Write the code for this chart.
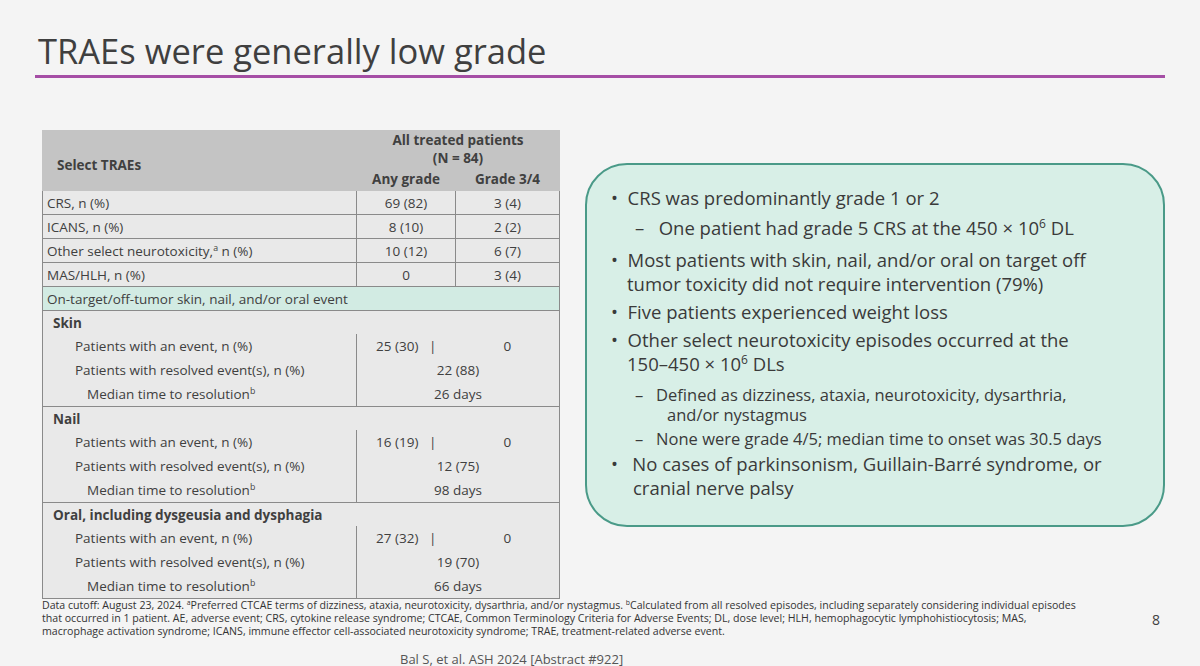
<!DOCTYPE html>
<html><head><meta charset="utf-8">
<script src="https://cdn.jsdelivr.net/npm/chart.js@4"></script>
<style>
body{margin:0;width:1200px;height:666px;background:#f4f4f4;font-family:"Open Sans","Noto Sans",sans-serif;color:#404040;position:relative;overflow:hidden}
sup{line-height:0;font-size:0.65em;vertical-align:0.55em}
#title{position:absolute;left:38px;top:27px;font-size:34.5px;color:#3f3f3f}
#rule{position:absolute;left:35px;top:75px;width:1130px;height:3px;background:#a54ea5}
#tbl{position:absolute;left:42px;top:130px;width:518px;border-collapse:collapse;font-size:13.5px}
#tbl td{border:1px solid #8a8a8a;padding:0 4px;height:23px;line-height:16px;background:#e9e9e9;white-space:nowrap}
#tbl td.c{text-align:center}
#tbl tr.h td{background:#c4c4c4;font-weight:bold;border-color:#c4c4c4}
#tbl tr.g td{background:#d2ebe3;font-weight:500}
#tbl tr.s td{font-weight:bold;border-bottom:none;border-top:1px solid #8a8a8a}
#tbl tr.n td{border-top:none;border-bottom:none}
#box{position:absolute;left:585px;top:163px;width:576px;height:360px;border:2px solid #4a9a88;border-radius:42px;background:#d8efe7;font-size:18.5px;color:#3a3a3a}
#box div{position:absolute;white-space:nowrap}
#foot{position:absolute;left:42px;top:599px;width:1040px;font-size:10.6px;line-height:13px;color:#333}
#pg{position:absolute;left:1152px;top:610px;font-size:14px}
#cite{position:absolute;left:400px;top:650px;font-size:13px;color:#555}
</style></head><body>
<div id="title">TRAEs were generally low grade</div>
<div id="rule"></div>
<table id="tbl"></table>
<div id="box"></div>
<div id="foot">Data cutoff: August 23, 2024. <sup>a</sup>Preferred CTCAE terms of dizziness, ataxia, neurotoxicity, dysarthria, and/or nystagmus. <sup>b</sup>Calculated from all resolved episodes, including separately considering individual episodes that occurred in 1 patient. AE, adverse event; CRS, cytokine release syndrome; CTCAE, Common Terminology Criteria for Adverse Events; DL, dose level; HLH, hemophagocytic lymphohistiocytosis; MAS, macrophage activation syndrome; ICANS, immune effector cell-associated neurotoxicity syndrome; TRAE, treatment-related adverse event.</div>
<div id="pg">8</div>
<div id="cite">Bal S, et al. ASH 2024 [Abstract #922]</div>
<script>
var topRows = ['CRS, n (%)', 'ICANS, n (%)', 'Other select neurotoxicity,<sup>a</sup> n (%)', 'MAS/HLH, n (%)'];
var anyGrade = ['69 (82)', '8 (10)', '10 (12)', '0'];
var grade34 = ['3 (4)', '2 (2)', '6 (7)', '3 (4)'];
var sections = ['Skin', 'Nail', 'Oral, including dysgeusia and dysphagia'];
var eventAny = ['25 (30)', '16 (19)', '27 (32)'];
var eventG34 = ['0', '0', '0'];
var resolved = ['22 (88)', '12 (75)', '19 (70)'];
var medianTime = ['26 days', '98 days', '66 days'];

var h = '<tr class="h"><td rowspan="3" style="padding-left:14px;vertical-align:middle;padding-top:8px">Select TRAEs</td><td colspan="2" class="c" style="height:17px">All treated patients</td></tr>'
  + '<tr class="h"><td colspan="2" class="c" style="height:17px">(N = 84)</td></tr>'
  + '<tr class="h"><td class="c" style="height:17px;width:90px">Any grade</td><td class="c" style="width:95px">Grade 3/4</td></tr>';
topRows.forEach(function(r, i){
  h += '<tr><td>' + r + '</td><td class="c">' + anyGrade[i] + '</td><td class="c">' + grade34[i] + '</td></tr>';
});
h += '<tr class="g"><td colspan="3">On-target/off-tumor skin, nail, and/or oral event</td></tr>';
sections.forEach(function(s, i){
  h += '<tr class="s"><td colspan="3" style="padding-left:10px">' + s + '</td></tr>';
  h += '<tr class="n"><td style="padding-left:32px;height:24px">Patients with an event, n (%)</td><td class="c" style="border-right:none">' + eventAny[i] + ' &nbsp;&nbsp;|</td><td class="c" style="border-left:none">' + eventG34[i] + '</td></tr>';
  h += '<tr class="n"><td style="padding-left:32px;height:24px">Patients with resolved event(s), n (%)</td><td colspan="2" class="c">' + resolved[i] + '</td></tr>';
  h += '<tr class="n"><td style="padding-left:44px;height:24px;border-bottom:1px solid #8a8a8a">Median time to resolution<sup>b</sup></td><td colspan="2" class="c" style="border-bottom:1px solid #8a8a8a">' + medianTime[i] + '</td></tr>';
});
document.getElementById('tbl').innerHTML = h;

var bullets = [
  [0, 20, '•&nbsp; CRS was predominantly grade 1 or 2'],
  [24, 50, '–&nbsp;&nbsp; One patient had grade 5 CRS at the 450 × 10<sup>6</sup> DL'],
  [0, 82, '•&nbsp; Most patients with skin, nail, and/or oral on target off'],
  [16, 106, 'tumor toxicity did not require intervention (79%)'],
  [0, 134, '•&nbsp; Five patients experienced weight loss'],
  [0, 162, '•&nbsp; Other select neurotoxicity episodes occurred at the'],
  [16, 186, '150–450 × 10<sup>6</sup> DLs'],
  [24, 216, '<span style="font-size:16.5px">–&nbsp;&nbsp; Defined as dizziness, ataxia, neurotoxicity, dysarthria,</span>'],
  [56, 236, '<span style="font-size:16.5px">and/or nystagmus</span>'],
  [24, 260, '<span style="font-size:16.5px">–&nbsp;&nbsp; None were grade 4/5; median time to onset was 30.5 days</span>'],
  [0, 286, '•&nbsp;&nbsp; No cases of parkinsonism, Guillain-Barré syndrome, or'],
  [22, 310, 'cranial nerve palsy']
];
var box = document.getElementById('box');
bullets.forEach(function(b){
  var d = document.createElement('div');
  d.style.left = (24 + b[0]) + 'px';
  d.style.top = b[1] + 'px';
  d.innerHTML = b[2];
  box.appendChild(d);
});
</script>
</body></html>
